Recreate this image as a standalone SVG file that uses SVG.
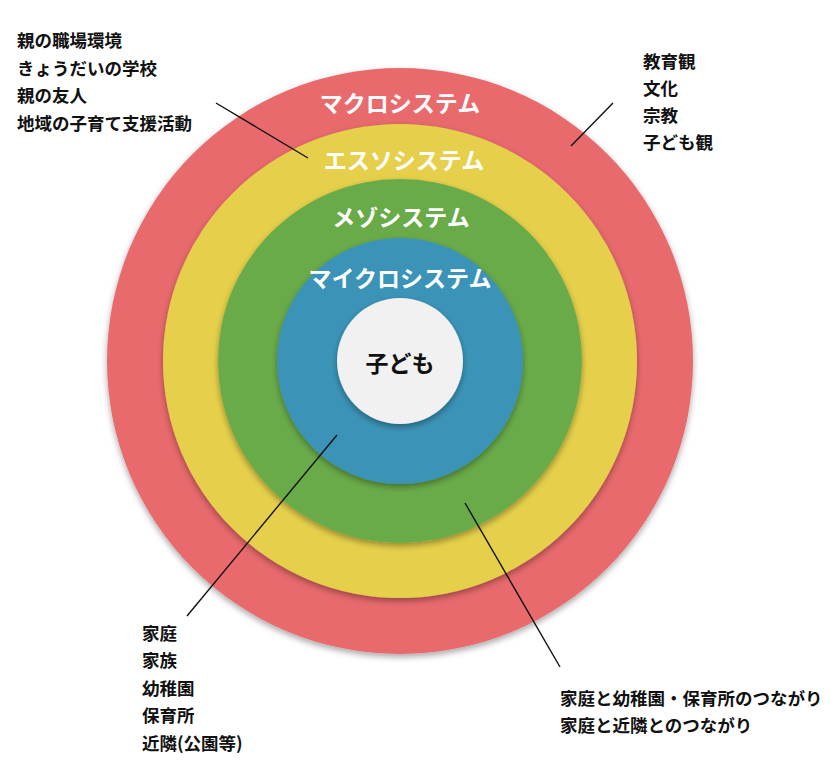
<svg xmlns="http://www.w3.org/2000/svg" width="840" height="771" viewBox="0 0 840 771">
  <style>
    .ring { filter: url(#shadow); }
    .rl { font-family: "Noto Sans CJK JP", "Noto Sans", sans-serif; font-weight: bold; font-size: 23px; fill: #ffffff; text-anchor: middle; }
    .cl { font-family: "Noto Sans CJK JP", "Noto Sans", sans-serif; font-weight: bold; font-size: 23px; fill: #111111; text-anchor: middle; }
    .lab { font-family: "Noto Sans CJK JP", "Noto Sans", sans-serif; font-weight: bold; font-size: 17.5px; fill: #111111; }
    .conn line { stroke: #111111; stroke-width: 1.4; }
  </style>
  <defs>
    <filter id="shadow" x="-10%" y="-10%" width="120%" height="125%">
      <feDropShadow dx="0" dy="3" stdDeviation="3" flood-color="#000000" flood-opacity="0.35"/>
    </filter>
  </defs>
  <rect width="840" height="771" fill="#ffffff"/>

  <g id="macro">
    <circle class="ring" cx="400" cy="361" r="293" fill="#E86A6D"/>
    <text class="rl" x="400" y="112">マクロシステム</text>
  </g>
  <g id="exo">
    <circle class="ring" cx="400" cy="361" r="237" fill="#E6D04B"/>
    <text class="rl" x="404" y="169">エスソシステム</text>
  </g>
  <g id="meso">
    <circle class="ring" cx="400" cy="361" r="182" fill="#6BAB48"/>
    <text class="rl" x="401" y="226">メゾシステム</text>
  </g>
  <g id="micro">
    <circle class="ring" cx="400" cy="361" r="123" fill="#3A94B7"/>
    <text class="rl" x="400" y="287">マイクロシステム</text>
  </g>
  <g id="child">
    <circle class="ring" cx="400" cy="361" r="63" fill="#F1F1F1"/>
    <text class="cl" x="400" y="372">子ども</text>
  </g>

  <g id="connectors" class="conn">
    <line x1="216" y1="103" x2="308" y2="158"/>
    <line x1="613" y1="103" x2="571" y2="146"/>
    <line x1="337" y1="435" x2="187" y2="616"/>
    <line x1="465" y1="503" x2="560" y2="667"/>
  </g>

  <g id="label-exo">
    <text class="lab" x="17" y="47">親の職場環境</text>
    <text class="lab" x="17" y="75">きょうだいの学校</text>
    <text class="lab" x="17" y="102">親の友人</text>
    <text class="lab" x="17" y="130">地域の子育て支援活動</text>
  </g>
  <g id="label-macro">
    <text class="lab" x="643" y="68">教育観</text>
    <text class="lab" x="643" y="95">文化</text>
    <text class="lab" x="643" y="122">宗教</text>
    <text class="lab" x="643" y="149">子ども観</text>
  </g>
  <g id="label-micro">
    <text class="lab" x="142" y="640">家庭</text>
    <text class="lab" x="142" y="667">家族</text>
    <text class="lab" x="142" y="695">幼稚園</text>
    <text class="lab" x="142" y="722">保育所</text>
    <text class="lab" x="142" y="750">近隣(公園等)</text>
  </g>
  <g id="label-meso">
    <text class="lab" x="560" y="705">家庭と幼稚園・保育所のつながり</text>
    <text class="lab" x="560" y="732">家庭と近隣とのつながり</text>
  </g>
</svg>
